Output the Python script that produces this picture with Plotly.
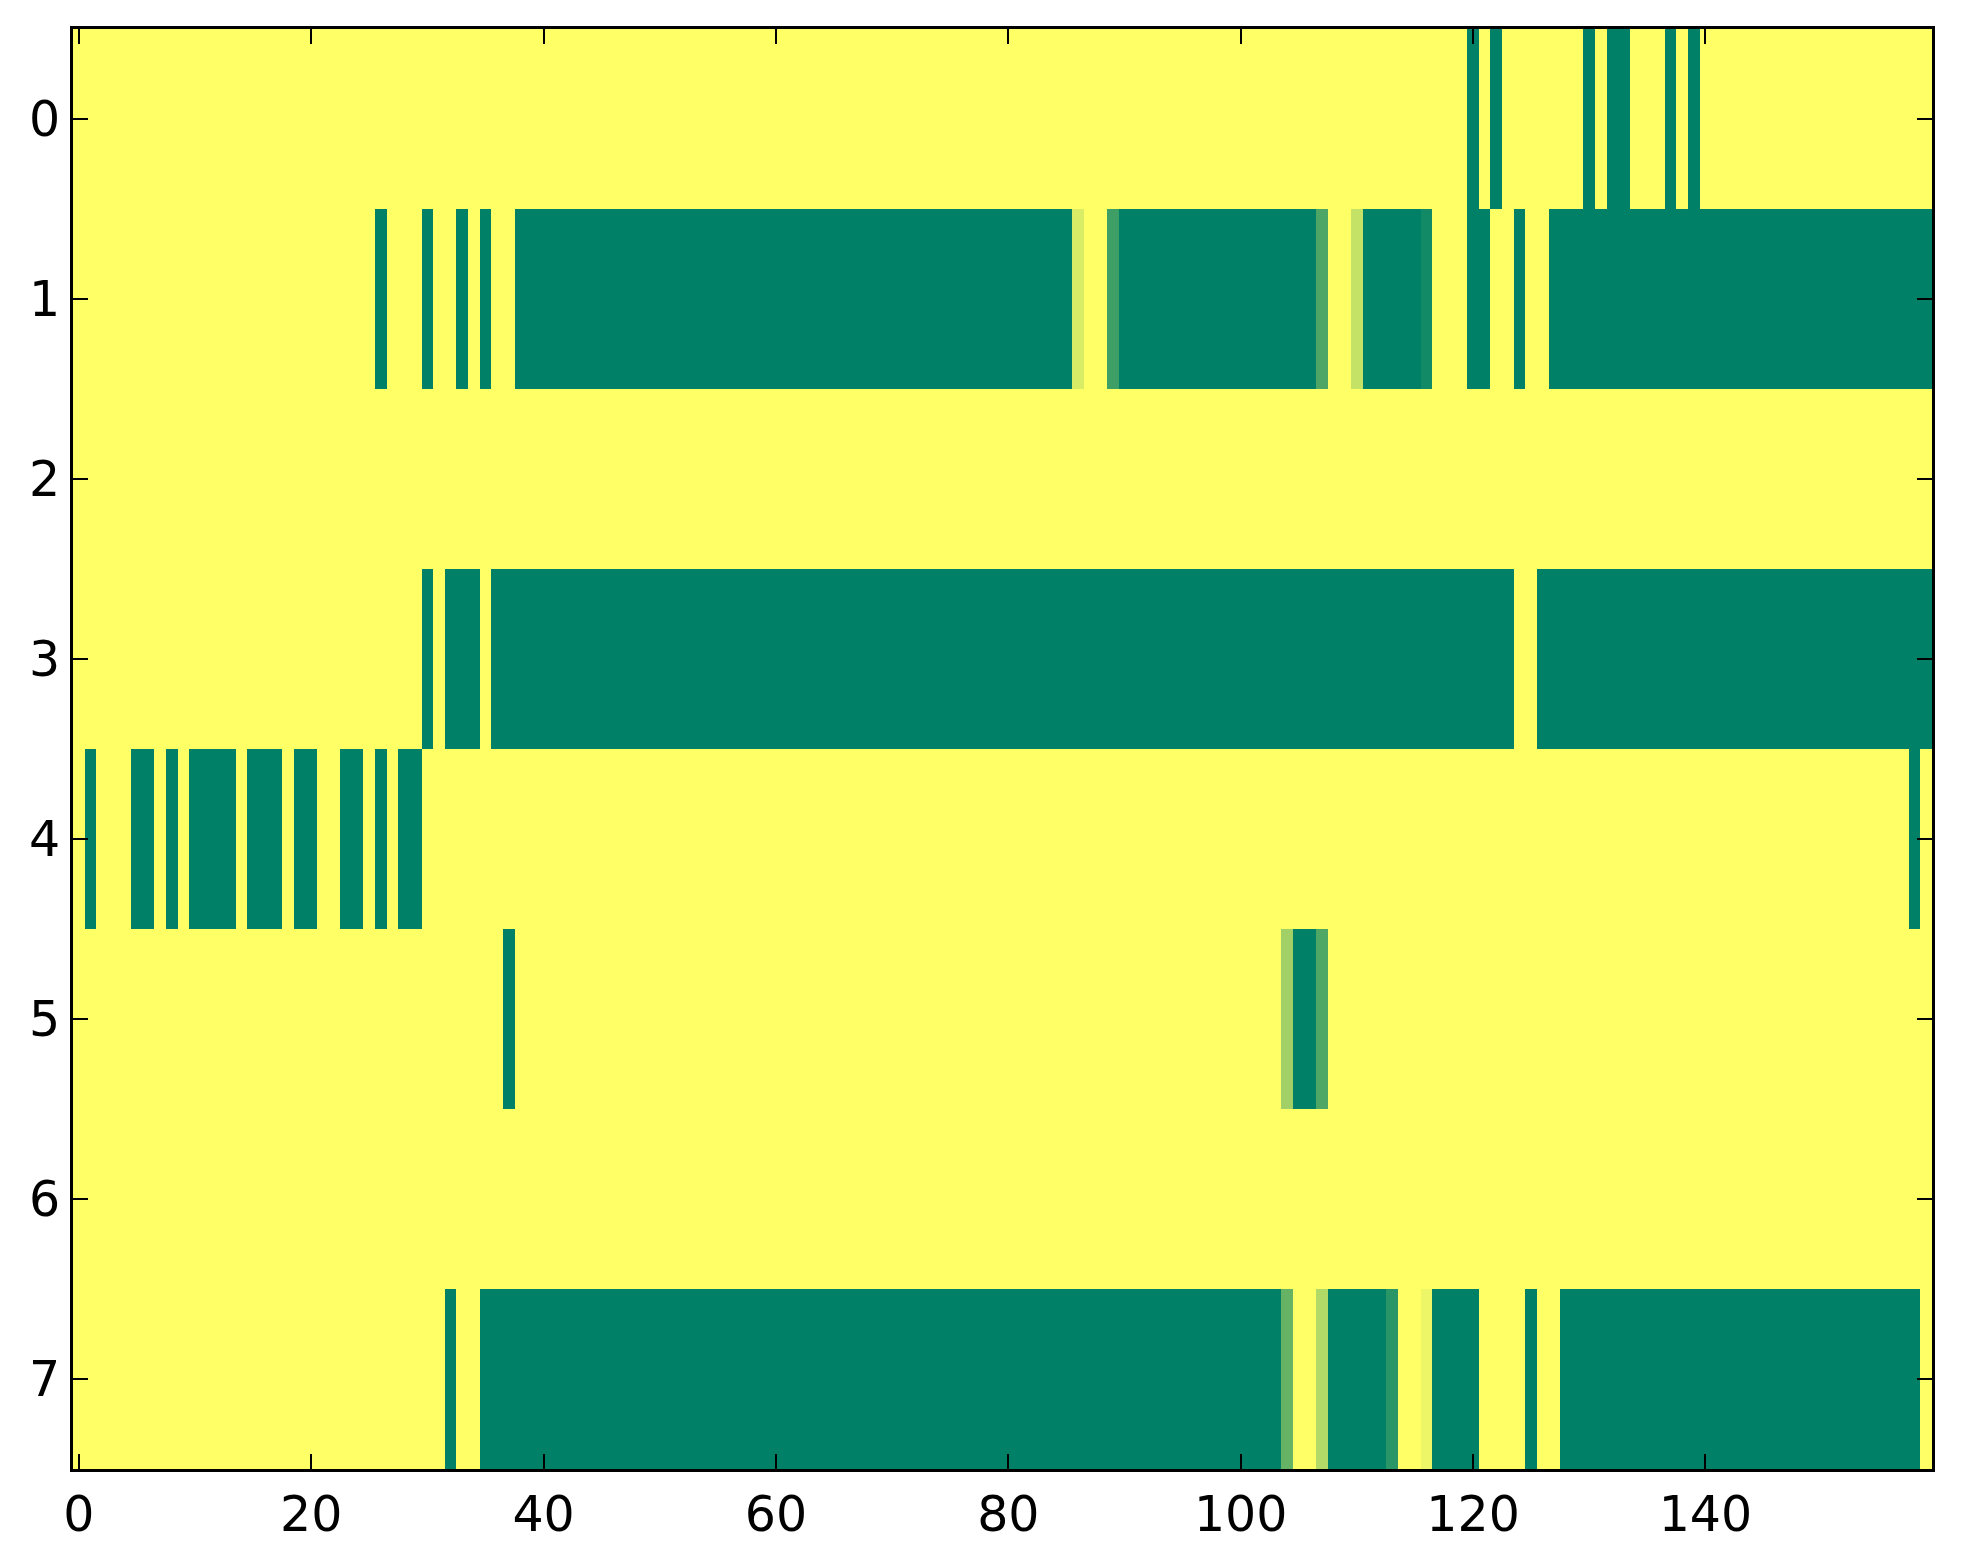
import plotly.graph_objects as go

# 8 rows x 160 columns, value 1 = yellow, 0 = dark green (summer colormap)
n_rows = 8
n_cols = 160

# dark green cells per row, as (first column, last column)
row0_dark = [(120, 120), (122, 122), (130, 130), (132, 133), (137, 137), (139, 139)]
row1_dark = [(26, 26), (30, 30), (33, 33), (35, 35), (38, 85), (90, 106),
             (111, 115), (120, 121), (124, 124), (127, 159)]
row2_dark = []
row3_dark = [(30, 30), (32, 34), (36, 123), (126, 159)]
row4_dark = [(1, 1), (5, 6), (8, 8), (10, 13), (15, 17), (19, 20), (23, 24),
             (26, 26), (28, 29), (158, 158)]
row5_dark = [(37, 37), (105, 106)]
row6_dark = []
row7_dark = [(32, 32), (35, 103), (108, 112), (117, 120), (125, 125), (128, 158)]

# in-between shades: (row, column, value)
mid_cells = [
    (1, 86, 0.85), (1, 89, 0.24), (1, 107, 0.30), (1, 110, 0.77), (1, 116, 0.075),
    (5, 104, 0.63), (5, 107, 0.31),
    (7, 104, 0.40), (7, 107, 0.70), (7, 113, 0.165), (7, 116, 0.93),
]

x_ticks = [0, 20, 40, 60, 80, 100, 120, 140]
y_ticks = [0, 1, 2, 3, 4, 5, 6, 7]

dark_runs = [row0_dark, row1_dark, row2_dark, row3_dark,
             row4_dark, row5_dark, row6_dark, row7_dark]

z = [[1.0] * n_cols for _ in range(n_rows)]
for r, runs in enumerate(dark_runs):
    for a, b in runs:
        for c in range(a, b + 1):
            z[r][c] = 0.0
for r, c, v in mid_cells:
    z[r][c] = v

summer = [[0.0, 'rgb(0,128,102)'], [1.0, 'rgb(255,255,102)']]

fig = go.Figure(go.Heatmap(
    z=z,
    x=list(range(n_cols)),
    y=list(range(n_rows)),
    colorscale=summer,
    zmin=0, zmax=1,
    showscale=False,
    hoverinfo='x+y+z',
))

axis_style = dict(
    showgrid=False, zeroline=False,
    showline=True, linecolor='black', linewidth=3, mirror='ticks',
    ticks='inside', ticklen=15, tickwidth=2, tickcolor='black',
)

fig.update_xaxes(range=[-0.5, n_cols - 0.5], tickvals=x_ticks, **axis_style)
fig.update_yaxes(range=[n_rows - 0.5, -0.5], tickvals=y_ticks, **axis_style)

# page body has an 8px margin, so the margins are shifted to keep the plot area in place
fig.update_layout(
    width=1963, height=1564,
    margin=dict(l=65, r=39, t=21, b=103),
    paper_bgcolor='white', plot_bgcolor='white',
    font=dict(family='DejaVu Sans', size=49, color='black'),
)

fig.write_html('out.html')
